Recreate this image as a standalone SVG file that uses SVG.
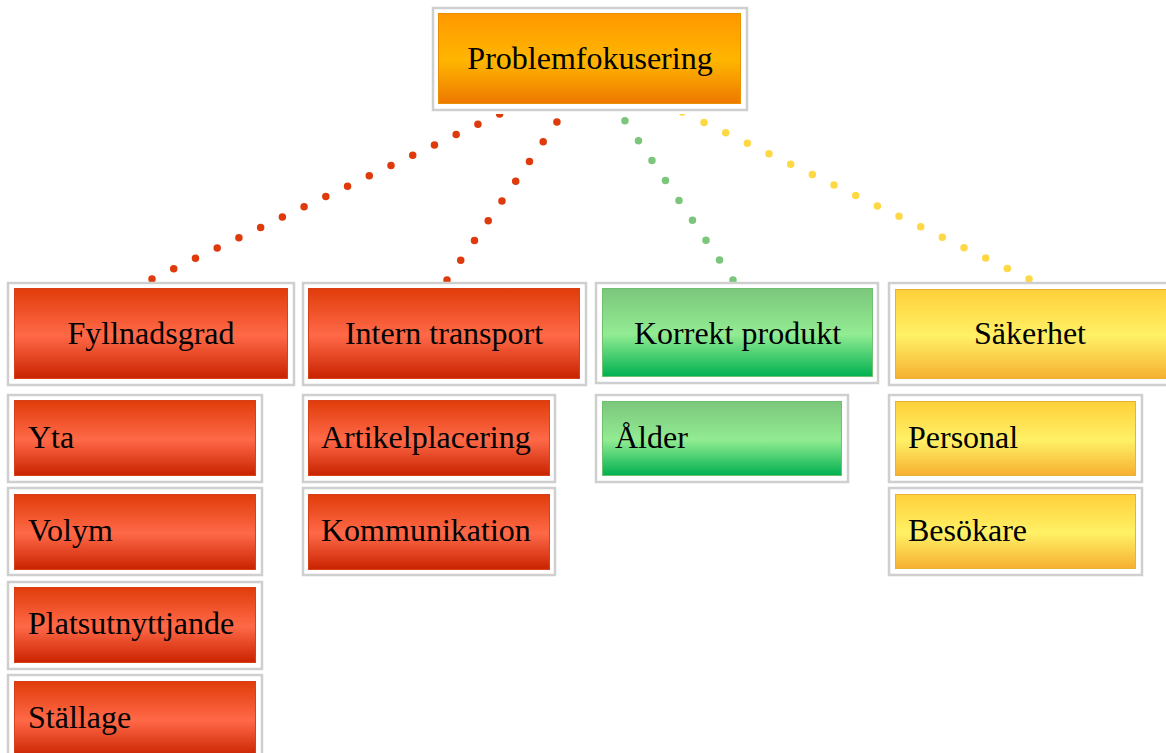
<svg xmlns="http://www.w3.org/2000/svg" width="1166" height="753" viewBox="0 0 1166 753">
<defs>
<linearGradient id="gRed" x1="0" y1="0" x2="0" y2="1">
<stop offset="0" stop-color="#e03c0a"/><stop offset="0.52" stop-color="#ff6948"/><stop offset="1" stop-color="#c92300"/>
</linearGradient>
<linearGradient id="gOrange" x1="0" y1="0" x2="0" y2="1">
<stop offset="0" stop-color="#ff9800"/><stop offset="0.52" stop-color="#ffb600"/><stop offset="1" stop-color="#ee7800"/>
</linearGradient>
<linearGradient id="gGreen" x1="0" y1="0" x2="0" y2="1">
<stop offset="0" stop-color="#7cc67c"/><stop offset="0.52" stop-color="#92ec92"/><stop offset="1" stop-color="#00b050"/>
</linearGradient>
<linearGradient id="gYellow" x1="0" y1="0" x2="0" y2="1">
<stop offset="0" stop-color="#ffd03a"/><stop offset="0.52" stop-color="#fff166"/><stop offset="1" stop-color="#f6b030"/>
</linearGradient>
</defs>
<style>
.frame{fill:#ffffff;stroke:#cfcfcf;stroke-width:2.5}
.red{fill:url(#gRed);stroke:#d8401a;stroke-width:1}
.orange{fill:url(#gOrange);stroke:#e89000;stroke-width:1}
.green{fill:url(#gGreen);stroke:#6fc06f;stroke-width:1}
.yellow{fill:url(#gYellow);stroke:#e8b235;stroke-width:1}
text{font-family:"Liberation Serif","Times New Roman",serif;font-size:32px;fill:#000}
.c{text-anchor:middle}
.dot{fill:none;stroke-width:7.5;stroke-linecap:round;stroke-dasharray:0 24.05}
</style>
<rect width="1166" height="753" fill="#ffffff"/>
<g id="connectors">
<path class="dot" stroke="#de3a0b" d="M152 279 L520.9 103.9"/>
<path class="dot" stroke="#de3a0b" d="M447 280 L570.75 102.25"/>
<path class="dot" stroke="#7cc67c" d="M733 280 L611.5 101"/>
<path class="dot" stroke="#ffd846" d="M1029 279 L659.6 101"/>
</g>
<g id="n-top">
<rect x="428" y="4" width="324" height="110" fill="#ffffff"/>
<rect class="frame" x="433" y="8" width="314" height="102"/>
<rect class="orange" x="438.5" y="13.5" width="302" height="90"/>
<text class="c" x="590" y="69">Problemfokusering</text>
</g>
<g id="n-fyllnadsgrad">
<rect class="frame" x="8" y="283" width="286" height="102"/>
<rect class="red" x="14.5" y="288.5" width="273" height="90"/>
<text class="c" x="151" y="344">Fyllnadsgrad</text>
</g>
<g id="n-intern">
<rect class="frame" x="303" y="283" width="283" height="102"/>
<rect class="red" x="308.5" y="288.5" width="271" height="90"/>
<text class="c" x="444" y="344">Intern transport</text>
</g>
<g id="n-korrekt">
<rect class="frame" x="596" y="283" width="282" height="100"/>
<rect class="green" x="602.5" y="288.5" width="270" height="88"/>
<text class="c" x="737.5" y="344">Korrekt produkt</text>
</g>
<g id="n-sakerhet">
<rect class="frame" x="889" y="283" width="284" height="102"/>
<rect class="yellow" x="895.5" y="289.5" width="272" height="89"/>
<text class="c" x="1030" y="344">Säkerhet</text>
</g>
<g id="n-yta">
<rect class="frame" x="8" y="395" width="254" height="87"/>
<rect class="red" x="14.5" y="400.5" width="241" height="75"/>
<text x="28" y="448">Yta</text>
</g>
<g id="n-volym">
<rect class="frame" x="8" y="488" width="254" height="87"/>
<rect class="red" x="14.5" y="494.5" width="241" height="75"/>
<text x="28" y="541">Volym</text>
</g>
<g id="n-plats">
<rect class="frame" x="8" y="582" width="254" height="87"/>
<rect class="red" x="14.5" y="587.5" width="241" height="75"/>
<text x="28" y="634">Platsutnyttjande</text>
</g>
<g id="n-stallage">
<rect class="frame" x="8" y="675" width="254" height="87"/>
<rect class="red" x="14.5" y="681.5" width="241" height="75"/>
<text x="28" y="728">Ställage</text>
</g>
<g id="n-artikel">
<rect class="frame" x="303" y="395" width="252" height="87"/>
<rect class="red" x="308.5" y="400.5" width="241" height="75"/>
<text x="321" y="448">Artikelplacering</text>
</g>
<g id="n-kommunikation">
<rect class="frame" x="303" y="488" width="252" height="87"/>
<rect class="red" x="308.5" y="494.5" width="241" height="75"/>
<text x="321" y="541">Kommunikation</text>
</g>
<g id="n-alder">
<rect class="frame" x="596" y="395" width="252" height="87"/>
<rect class="green" x="602.5" y="401.5" width="239" height="74"/>
<text x="615" y="448">Ålder</text>
</g>
<g id="n-personal">
<rect class="frame" x="889" y="395" width="253" height="87"/>
<rect class="yellow" x="895.5" y="401.5" width="240" height="74"/>
<text x="908" y="448">Personal</text>
</g>
<g id="n-besokare">
<rect class="frame" x="889" y="488" width="253" height="87"/>
<rect class="yellow" x="895.5" y="494.5" width="240" height="74"/>
<text x="908" y="541">Besökare</text>
</g>
</svg>
